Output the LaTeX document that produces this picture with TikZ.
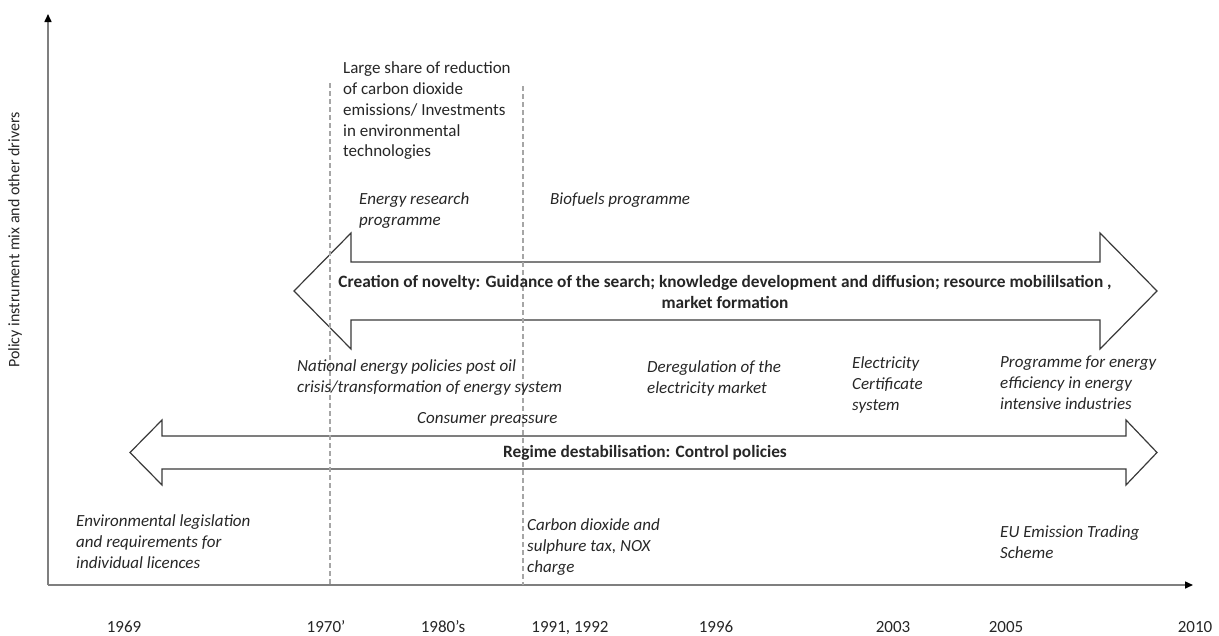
\documentclass[tikz,border=0pt]{standalone}
\usepackage{fontspec}
\setmainfont{Carlito}
\usetikzlibrary{arrows.meta}
\definecolor{txt}{HTML}{262626}
\definecolor{axisgray}{HTML}{7F7F7F}
\definecolor{dashgray}{HTML}{A6A6A6}
\definecolor{arrowline}{HTML}{3A3A3A}
\tikzset{
  lbl/.style={anchor=north west, inner sep=0pt, align=left, text=txt,
    font=\fontsize{17}{20.8}\selectfont\itshape},
  plainlbl/.style={lbl, font=\fontsize{17}{20.8}\selectfont},
  year/.style={anchor=base, inner sep=0pt, text=txt, font=\fontsize{17}{20.8}\selectfont},
  axisline/.style={draw=axisgray, line width=1.5pt, -{Triangle[length=8pt,width=7pt,fill=black,color=black]}},
  guide/.style={draw=dashgray, line width=1.6pt, dash pattern=on 5pt off 3pt},
  bigarrow/.style={draw=arrowline, line width=1.2pt, fill=white, line join=miter},
  arrowtext/.style={inner sep=0pt, align=center, text=txt, font=\fontsize{17.3}{20.8}\selectfont\bfseries}
}
\begin{document}
\begin{tikzpicture}[x=1pt,y=-1pt]
\useasboundingbox (0,0) rectangle (1219,635);

% axes
\coordinate (origin) at (48,585);
\coordinate (ytop) at (48,14);
\coordinate (xend) at (1193,585);
\draw[axisline] (origin) -- (ytop);
\draw[axisline] (origin) -- (xend);
\node[rotate=90, inner sep=0pt, text=txt, font=\fontsize{16}{19}\selectfont] (ylabel) at (15,240) {Policy instrument mix and other drivers};

% upper double arrow
\draw[bigarrow] (294,291) -- (351,233) -- (351,262) -- (1100,262) -- (1100,233) -- (1157,291)
  -- (1100,349) -- (1100,320) -- (351,320) -- (351,349) -- cycle;
% lower double arrow
\draw[bigarrow] (130,452.5) -- (162,420) -- (162,436) -- (1126,436) -- (1126,420) -- (1157,452.5)
  -- (1126,485) -- (1126,469) -- (162,469) -- (162,485) -- cycle;

% dashed guides
\coordinate (g1top) at (330,83);
\coordinate (g1bot) at (330,585);
\coordinate (g2top) at (523,86);
\coordinate (g2bot) at (523,585);
\draw[guide] (g1top) -- (g1bot);
\draw[guide] (g2top) -- (g2bot);

% arrow texts
\node[arrowtext] (novelty) at (725,292) {Creation of novelty: Guidance of the search; knowledge development and diffusion; resource mobililsation ,\\market formation};
\node[arrowtext] (regime) at (645,453) {Regime destabilisation: Control policies};

% labels
\node[plainlbl] (large) at (343,59) {\strut Large share of reduction\\of carbon dioxide\\emissions/ Investments\\in environmental\\technologies};
\node[lbl] (energyres) at (359,190) {\strut Energy research\\programme};
\node[lbl] (biofuels) at (550,190) {\strut Biofuels programme};
\node[lbl] (national) at (297,357) {\strut National energy policies post oil\\crisis/transformation of energy system};
\node[lbl] (dereg) at (647,358) {\strut Deregulation of the\\electricity market};
\node[lbl] (elcert) at (852,354) {\strut Electricity\\Certificate\\system};
\node[lbl] (effprog) at (1000,353) {\strut Programme for energy\\efficiency in energy\\intensive industries};
\node[lbl] (consumer) at (417,409) {\strut Consumer preassure};
\node[lbl] (envleg) at (76,512) {\strut Environmental legislation\\and requirements for\\individual licences};
\node[lbl] (carbon) at (527,516) {\strut Carbon dioxide and\\sulphure tax, NOX\\charge};
\node[lbl] (euets) at (1000,523) {\strut EU Emission Trading\\Scheme};

% years
\node[year] (y1969) at (124,632) {1969};
\node[year] (y1970) at (326,632) {1970’};
\node[year] (y1980) at (443,632) {1980’s};
\node[year] (y1991) at (570,632) {1991,\ 1992};
\node[year] (y1996) at (716,632) {1996};
\node[year] (y2003) at (893,632) {2003};
\node[year] (y2005) at (1006,632) {2005};
\node[year] (y2010) at (1195,632) {2010};
\end{tikzpicture}
\end{document}
